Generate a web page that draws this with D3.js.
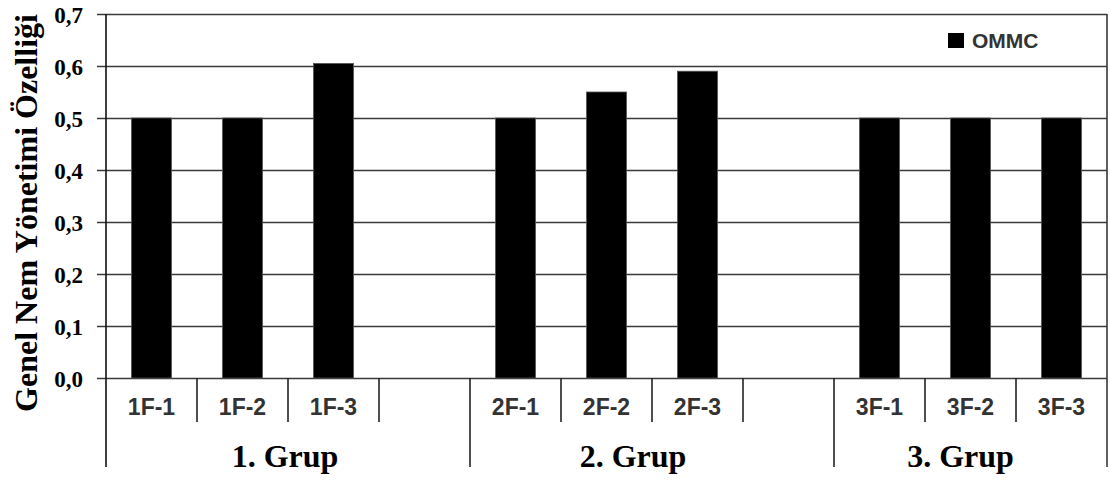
<!DOCTYPE html>
<html>
<head>
<meta charset="utf-8">
<script src="https://cdn.jsdelivr.net/npm/d3@7"></script>
<style>
  html, body { margin: 0; padding: 0; background: #fff; }
  svg { display: block; }
</style>
</head>
<body>
<div id="chart"></div>
<script>
// ---- data ----
const categories = ["1F-1", "1F-2", "1F-3", "", "2F-1", "2F-2", "2F-3", "", "3F-1", "3F-2", "3F-3"];
const values = [0.5, 0.5, 0.605, null, 0.5, 0.55, 0.59, null, 0.5, 0.5, 0.5];
const groupLabels = ["1. Grup", "2. Grup", "3. Grup"];
const groupStart = [0, 4, 8];
const groupEnd = [4, 8, 11];
const yTickValues = [0, 0.1, 0.2, 0.3, 0.4, 0.5, 0.6, 0.7];
const yTickLabels = ["0,0", "0,1", "0,2", "0,3", "0,4", "0,5", "0,6", "0,7"];
const seriesName = "OMMC";
const yTitle = "Genel Nem Yönetimi Özelliği";

// ---- layout ----
const W = 1110, H = 481;
const pLeft = 106, pRight = 1107, pTop = 14, pBottom = 378;
const catTickEnd = 422, groupTickEnd = 467;
const groupLabelNudge = [-3, -19, -10];

const svg = d3.select("#chart").append("svg")
  .attr("width", W).attr("height", H);

const x = d3.scaleBand().domain(d3.range(categories.length)).range([pLeft, pRight]).padding(0);
const y = d3.scaleLinear().domain([0, 0.7]).range([pBottom, pTop]);

// gridlines + y labels
const yAxis = d3.axisLeft(y)
  .tickValues(yTickValues)
  .tickFormat((d, i) => yTickLabels[i])
  .tickSizeInner(-(pRight - pLeft + 9))
  .tickSizeOuter(0)
  .tickPadding(14);

const gy = svg.append("g").attr("transform", `translate(${pLeft - 9},0)`).call(yAxis);
gy.select(".domain").remove();
gy.selectAll(".tick line").attr("stroke", "#3a3a3a").attr("stroke-width", 1.6);
gy.selectAll(".tick text")
  .attr("font-family", "'Liberation Serif', 'Times New Roman', serif")
  .attr("font-weight", "bold")
  .attr("font-size", 23)
  .attr("fill", "#000")
  .attr("dy", "0.35em");

// bars
const barW = x.bandwidth() * 0.44;
svg.append("g").selectAll("rect")
  .data(values.map((v, i) => ({ v, i })).filter(d => d.v !== null))
  .join("rect")
  .attr("x", d => x(d.i) + (x.bandwidth() - barW) / 2)
  .attr("y", d => y(d.v))
  .attr("width", barW)
  .attr("height", d => y(0) - y(d.v))
  .attr("fill", "#000")
  .attr("stroke", "#555")
  .attr("stroke-width", 0.8);

// frame: left axis, right border
svg.append("line").attr("x1", pLeft).attr("x2", pLeft).attr("y1", pTop).attr("y2", groupTickEnd)
  .attr("stroke", "#111").attr("stroke-width", 1.6);
svg.append("line").attr("x1", pRight).attr("x2", pRight).attr("y1", pTop).attr("y2", groupTickEnd)
  .attr("stroke", "#3a3a3a").attr("stroke-width", 1.6);

// category ticks
const boundaries = d3.range(1, categories.length);
svg.append("g").selectAll("line")
  .data(boundaries)
  .join("line")
  .attr("x1", d => x(d)).attr("x2", d => x(d))
  .attr("y1", pBottom)
  .attr("y2", d => groupStart.includes(d) ? groupTickEnd : catTickEnd)
  .attr("stroke", "#222").attr("stroke-width", 1.6);

// category labels
svg.append("g").selectAll("text")
  .data(categories.map((c, i) => ({ c, i })).filter(d => d.c !== ""))
  .join("text")
  .attr("x", d => x(d.i) + x.bandwidth() / 2)
  .attr("y", 415)
  .attr("text-anchor", "middle")
  .attr("font-family", "'Liberation Sans', Arial, sans-serif")
  .attr("font-weight", "bold")
  .attr("font-size", 23)
  .attr("fill", "#333")
  .text(d => d.c);

// group labels
svg.append("g").selectAll("text")
  .data(groupLabels.map((g, i) => ({ g, i })))
  .join("text")
  .attr("x", d => (x(groupStart[d.i]) + (groupEnd[d.i] < categories.length ? x(groupEnd[d.i]) : pRight)) / 2 + groupLabelNudge[d.i])
  .attr("y", 467)
  .attr("text-anchor", "middle")
  .attr("font-family", "'Liberation Serif', 'Times New Roman', serif")
  .attr("font-weight", "bold")
  .attr("font-size", 32)
  .attr("fill", "#000")
  .text(d => d.g);

// y title
svg.append("text")
  .attr("transform", `translate(37,213) rotate(-90)`)
  .attr("text-anchor", "middle")
  .attr("font-family", "'Liberation Serif', 'Times New Roman', serif")
  .attr("font-weight", "bold")
  .attr("font-size", 32)
  .attr("fill", "#000")
  .text(yTitle);

// legend
const lg = svg.append("g");
lg.append("rect").attr("x", 948).attr("y", 33).attr("width", 16).attr("height", 15).attr("fill", "#000");
lg.append("text").attr("x", 972).attr("y", 48)
  .attr("font-family", "'Liberation Sans', Arial, sans-serif")
  .attr("font-weight", "bold")
  .attr("font-size", 21)
  .attr("fill", "#333")
  .text(seriesName);
</script>
</body>
</html>
